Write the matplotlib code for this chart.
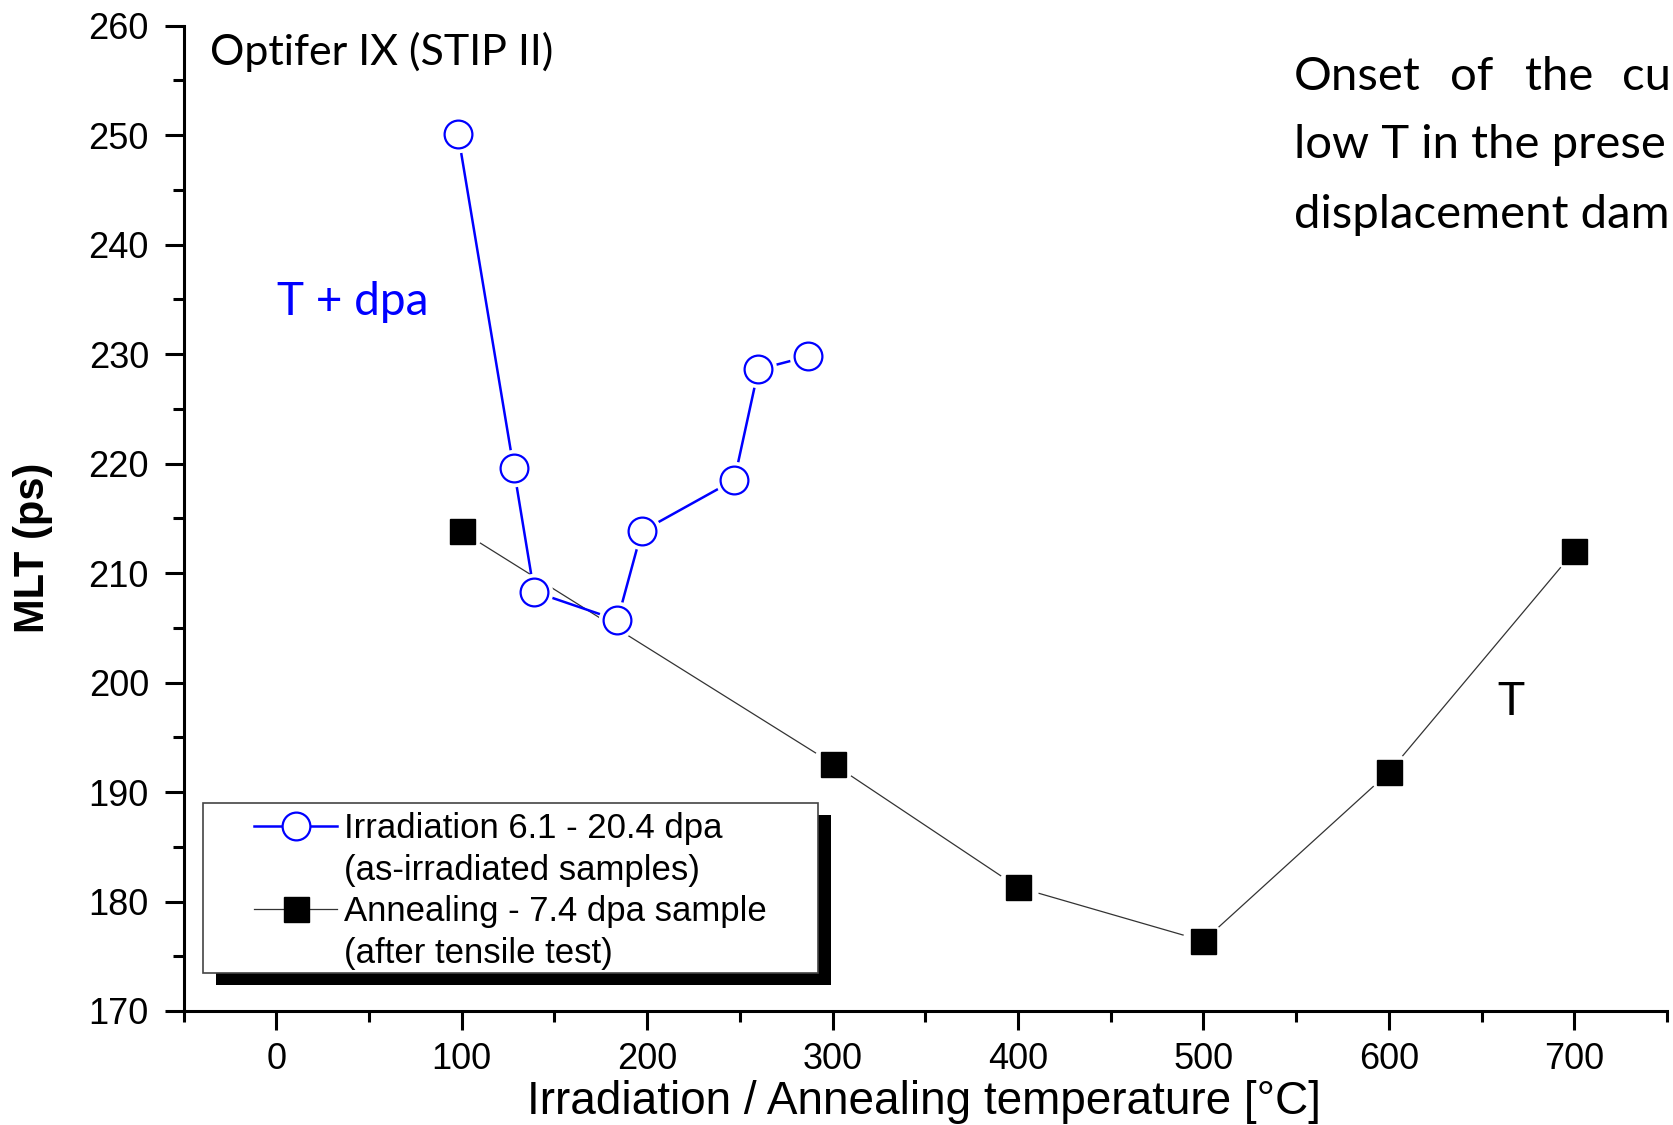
import matplotlib
matplotlib.use('Agg')
import matplotlib.pyplot as plt
from matplotlib.lines import Line2D
from matplotlib.patches import Rectangle
from matplotlib.ticker import FixedLocator, MultipleLocator

# ---- data ----
irr_temp = [98, 128, 139, 184, 197, 247, 260, 287]
irr_mlt = [250.1, 219.6, 208.3, 205.7, 213.8, 218.5, 228.6, 229.8]
ann_temp = [100, 300, 400, 500, 600, 700]
ann_mlt = [213.8, 192.6, 181.3, 176.4, 191.8, 212.0]

x_ticks = [0, 100, 200, 300, 400, 500, 600, 700]
y_ticks = [170, 180, 190, 200, 210, 220, 230, 240, 250, 260]

legend_labels = ["Irradiation 6.1 - 20.4 dpa", "(as-irradiated samples)",
                 "Annealing - 7.4 dpa sample", "(after tensile test)"]
title_text = "Optifer IX (STIP II)"
note_line1_words = ["Onset", "of", "the", "cu"]
note_lines = ["low T in the prese", "displacement dam"]

plt.rcParams['font.family'] = ['Liberation Sans', 'DejaVu Sans']

W, H = 1674, 1125
fig = plt.figure(figsize=(W / 100, H / 100), dpi=100)


def fx(px):
    return px / W


def fy(py):
    return 1 - py / H


ax = fig.add_axes([fx(183.6), fy(1011), (1667 - 183.6) / W, (1011 - 25.6) / H])
ax.set_xlim(-50, 750)
ax.set_ylim(170, 260)

for s in ['top', 'right']:
    ax.spines[s].set_visible(False)
for s in ['left', 'bottom']:
    ax.spines[s].set_linewidth(2.2)

ax.xaxis.set_major_locator(FixedLocator(x_ticks))
ax.xaxis.set_minor_locator(MultipleLocator(50))
ax.yaxis.set_major_locator(FixedLocator(y_ticks))
ax.yaxis.set_minor_locator(MultipleLocator(5))
ax.tick_params(which='major', direction='out', length=14, width=2.2, labelsize=26)
ax.tick_params(which='minor', direction='out', length=8, width=2.2)
ax.tick_params(axis='y', which='major', pad=11)
ax.tick_params(axis='x', which='major', pad=8)

# annealing series (black squares, thin line with gaps)
ax.plot(ann_temp, ann_mlt, color='#333333', lw=0.9, zorder=2)
ax.plot(ann_temp, ann_mlt, ls='none', marker='o', ms=30, mfc='white', mec='none', zorder=2.1)
ax.plot(ann_temp, ann_mlt, ls='none', marker='s', ms=18, mfc='black', mec='black', zorder=2.2)

# irradiation series (blue open circles)
ax.plot(irr_temp, irr_mlt, color='#0000FF', lw=1.8, zorder=3)
ax.plot(irr_temp, irr_mlt, ls='none', marker='o', ms=27, mfc='white', mec='none', zorder=3.1)
ax.plot(irr_temp, irr_mlt, ls='none', marker='o', ms=20, mfc='white', mec='#0000FF', mew=1.6, zorder=3.2)

ax.set_xlabel("Irradiation / Annealing temperature [°C]", fontsize=33)
ax.xaxis.set_label_coords(0.499, -0.070)
ax.xaxis.label.set_verticalalignment('top')
ax.set_ylabel("MLT (ps)", fontsize=30, fontweight='bold')
ax.yaxis.set_label_coords(-0.1015, 0.47)
ax.yaxis.label.set_verticalalignment('center')

# legend with shadowed box
h1 = Line2D([], [], color='#0000FF', lw=1.8, marker='o', ms=20, mfc='white', mec='#0000FF', mew=1.6)
h2 = Line2D([], [], color='#333333', lw=0.9, marker='s', ms=18, mfc='black', mec='black')
blank = Line2D([], [], ls='none')
leg = ax.legend([h1, blank, h2, blank], legend_labels, loc='upper left',
                bbox_to_anchor=(fx(254), fy(812)), bbox_transform=fig.transFigure,
                frameon=False, fontsize=25, handlelength=2.4, handletextpad=0.2,
                labelspacing=0.25, borderpad=0, borderaxespad=0, numpoints=1)
leg.set_zorder(6)
ax.add_patch(Rectangle((fx(216), fy(985)), (818 - 203) / W, (973 - 803) / H,
                       transform=fig.transFigure, fc='black', ec='none', zorder=4, clip_on=False))
ax.add_patch(Rectangle((fx(203), fy(973)), (818 - 203) / W, (973 - 803) / H,
                       transform=fig.transFigure, fc='white', ec='#444444', lw=1.2, zorder=4.5, clip_on=False))

# annotations
cal = ['Lato', 'DejaVu Sans']
fig.text(fx(210), fy(65), title_text, fontsize=31, family=cal, va='baseline', ha='left')
fig.text(fx(277), fy(315), "T + dpa", fontsize=33, family=cal, color='#0000FF', va='baseline', ha='left')
fig.text(fx(1497), fy(715), "T", fontsize=33, family=cal, va='baseline', ha='left')
word_x = [1294, 1450, 1525, 1671]
word_ha = ['left', 'left', 'left', 'right']
for word, xpos, ha in zip(note_line1_words, word_x, word_ha):
    fig.text(fx(xpos), fy(90), word, fontsize=34, family=cal, va='baseline', ha=ha)
for line, base in zip(note_lines, [158, 228]):
    fig.text(fx(1294), fy(base), line, fontsize=34, family=cal, va='baseline', ha='left')

fig.savefig('out.png', dpi=100)
